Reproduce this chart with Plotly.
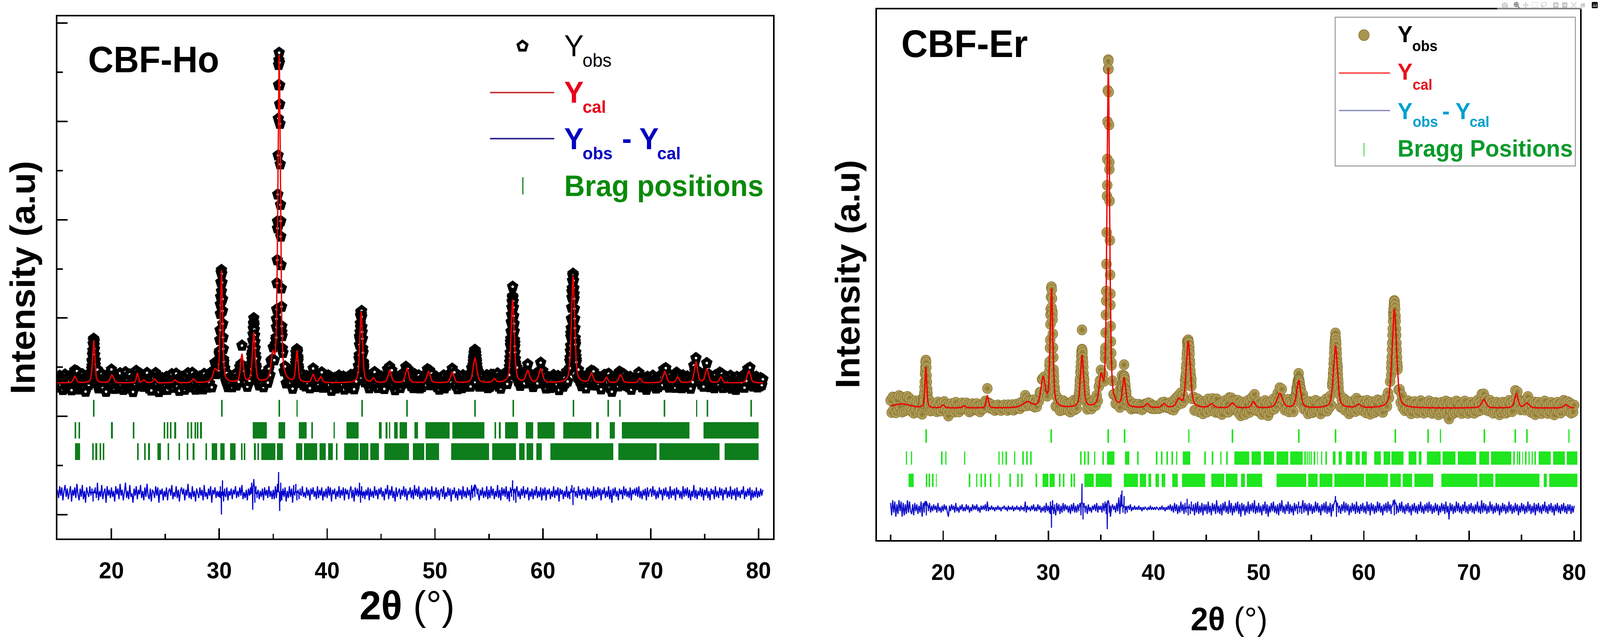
import numpy as np
import plotly.graph_objects as go

W, H = 4268, 1644

# ======================= DATA : CBF-Ho (left) =======================
ho_x_start, ho_x_step = 15.0, 0.1
ho_background = 2680
ho_peak_pos = [16.6, 18.35, 20.05, 22.4, 23.0, 24.0, 25.9, 27.6, 29.6, 30.2, 32.1, 33.2, 34.95, 35.55,
               37.2, 38.7, 39.4, 43.15, 44.3, 45.8, 47.4, 49.4, 51.6, 53.7, 55.5, 57.2, 58.6, 59.8,
               62.8, 64.5, 65.9, 67.2, 69.0, 71.3, 72.5, 74.2, 75.2, 76.5, 79.1]
ho_peak_height = [135, 872, 160, 200, 60, 80, 60, 80, 240, 2275, 570, 1007, 475, 6667,
                  634, 160, 120, 1443, 90, 254, 293, 230, 214, 500, 80, 1688, 240, 280,
                  2172, 190, 110, 166, 90, 230, 120, 428, 277, 120, 246]
ho_peak_fwhm = [0.3, 0.25, 0.35, 0.2, 0.3, 0.3, 0.3, 0.3, 0.45, 0.25, 0.3, 0.3, 0.35, 0.28,
                0.25, 0.3, 0.3, 0.3, 0.3, 0.35, 0.35, 0.35, 0.35, 0.4, 0.3, 0.35, 0.4, 0.4,
                0.35, 0.35, 0.3, 0.35, 0.3, 0.35, 0.3, 0.35, 0.35, 0.3, 0.35]
ho_diff_unit = 24
ho_diff_offset = 436
ho_diff = [
    3,-4,6,-2,5,-6,2,7,-3,4,-5,1,6,-7,3,-2,5,-4,8,-1,-6,4,-3,7,-5,2,-8,5,0,-3,6,-2,4,-7,3,5,-4,9,-6,2,-3,7,-5,1,4,-8,6,-2,3,-4,
    5,-3,2,-7,6,-1,4,-5,8,-2,3,-6,1,9,-4,2,-5,7,-3,0,-8,4,-2,6,-5,3,-1,7,-4,2,-6,5,-3,8,-2,-5,4,-7,3,1,-4,6,-2,5,-8,3,-1,4,-6,2,
    -3,5,-6,2,4,-2,7,-5,1,-3,6,-4,3,-7,2,5,-1,4,-6,3,-2,8,-4,1,-5,6,-3,2,-7,4,0,-4,5,-2,3,-6,7,-3,1,-5,4,-2,6,-8,3,-1,5,-4,2,-3,
    2,6,-18,11,-7,4,-3,5,-6,2,-2,4,-5,3,-1,6,-4,2,-3,5,-2,7,-5,1,-4,3,-6,4,-2,5,9,-14,12,-8,6,-4,3,-5,2,-3,4,-6,5,-2,3,-4,6,-3,2,-5,
    3,-5,6,-4,8,18,-15,9,-6,4,-3,5,-7,2,-4,6,-3,4,-8,7,-2,8,-6,3,-5,4,-2,6,-3,1,-4,5,-2,3,-6,4,-1,5,-3,2,-5,6,-4,3,-2,5,-6,2,-3,4,
    -4,6,-2,5,-7,3,-1,4,-5,2,-3,6,-4,3,-2,5,-6,4,-1,3,-5,2,6,-4,3,-7,5,-2,4,-3,9,-8,6,-4,2,-5,3,-2,5,-6,4,-3,2,-4,6,-2,3,-5,4,-1,
    5,-3,2,-6,4,-1,7,-5,3,-2,6,-4,2,-7,5,-3,1,4,-5,3,-2,6,-3,4,-6,2,-1,5,-4,3,-5,7,-2,4,-3,6,-5,2,-4,3,-2,5,-6,4,-1,3,-5,6,-3,2,
    -2,5,-4,3,-6,2,4,-3,6,-5,1,-3,5,-2,4,-7,3,-1,5,-4,2,-6,4,-2,3,-5,6,-3,2,-4,5,-2,3,-6,7,-4,2,-3,5,-1,4,-6,3,-2,5,-4,2,-3,6,-5,
    3,-4,6,-2,4,-5,2,-3,7,-4,3,-6,5,-2,4,-3,6,-5,2,-7,5,-3,11,-6,4,-8,6,-3,2,-5,4,-2,6,-4,3,-1,5,-6,2,-3,4,-5,3,-2,6,-4,2,-3,5,-6,
    4,-2,5,-6,3,-1,4,-5,2,-3,6,-4,3,-2,5,-7,4,-1,3,-5,2,-3,6,-4,2,-5,4,7,-10,5,-3,2,-4,6,-2,3,-5,4,-1,3,-6,5,-2,4,-3,2,-5,6,-4,3,
    -3,5,-2,4,-6,3,-1,5,-4,2,-3,6,-5,3,-8,4,-2,5,-3,2,-6,4,-1,3,-5,6,-2,4,-3,2,-4,5,-6,3,-1,4,-2,5,-3,6,-4,2,-5,3,-2,4,-6,5,-3,2,
    4,-3,6,-2,3,-5,2,-4,5,-1,3,-6,4,-2,5,-3,2,-5,6,-4,3,-2,4,-6,5,-1,3,-4,2,-5,6,-3,4,-2,5,-4,3,-6,2,-3,7,-4,3,-5,2,-2,5,-3,4,-6,
    3,-2,5,-4,2,-6,4,-1,3,-5,6,-3,2,-4,5,-2,4,-6,3,-1,5,-4,2,-3,6,-5,3,-2,4,-6,5,-3,2,-4,3,-1,6,-5,2,-3,4,-2,5,-6,3,-4,2,-3,5,-4,
    2,-3,4,-2,3]
# finer scans recorded across the strongest reflections (step 0.025 deg, 25 points centred on each)
ho_fine_step = 0.025
ho_fine_centres = [18.35, 30.2, 33.2, 35.55, 37.2, 43.15, 53.7, 57.2, 62.8]
ho_fine_diff = [
    [0,1,-1,1,0,1,0,1,1,0,1,1,1,1,0,1,1,0,1,0,1,0,1,-1,0],
    [1,-2,1,-3,1,-3,-2,-4,-2,0,1,1,0,0,1,-2,1,2,1,0,-2,1,-1,1,-1],
    [1,-1,2,0,2,2,4,3,5,6,7,8,8,7,6,5,4,3,2,2,0,1,-1,1,-1],
    [2,-3,3,-2,3,1,2,1,2,1,1,2,1,0,1,-3,-5,-7,-4,-2,0,2,-1,1,-2],
    [0,1,-1,1,0,1,1,2,1,1,1,1,1,1,2,1,1,0,1,0,1,0,1,-1,0],
    [1,-1,2,-2,1,-1,2,1,0,1,2,1,0,-1,1,-2,0,1,-1,1,-2,1,0,-1,1],
    [0,1,1,2,3,3,4,5,5,6,6,7,7,7,6,6,5,4,4,3,2,2,1,1,0],
    [0,1,1,1,2,2,2,3,3,3,3,3,3,3,3,3,2,2,2,1,1,1,0,0,1],
    [1,0,1,0,1,1,1,2,2,2,2,2,2,2,2,2,1,1,1,1,0,1,0,1,0],
]
ho_bragg_row1 = [18.36, 30.23, 35.58, 37.2, 43.24, 47.4, 53.72, 57.27, 62.84, 66.05, 67.15, 71.28, 74.26, 75.28, 79.3]
ho_bragg_row2 = [16.66, 17.02, 20.06, 22.05, 24.9, 25.2, 25.5, 25.9, 27.1, 27.4, 27.8, 28.0, 28.3,
                 [33.1, 34.4], [35.5, 36.1], [37.4, 38.1], 38.6, 40.65, [41.8, 42.9], [44.8, 45.05], 45.5, 45.8,
                 46.3, 46.45, [46.75, 47.4], [48.1, 48.4], [49.1, 51.35], [51.6, 54.6], 55.6, 56.0, [56.5, 57.7],
                 [58.4, 59.1], [59.5, 61.1], [61.9, 64.5], [64.95, 65.2], [66.2, 66.7], [67.3, 73.6], [74.9, 80.0]]
ho_bragg_row3 = [[16.65, 17.1], 18.3, 18.6, 18.96, 19.27, 22.45, 23.1, 23.5, [24.25, 24.6], 25.3, 26.3, 27.05,
                 27.6, 28.8, [29.3, 29.8], [30.1, 30.5], [31.0, 31.5], 32.1, 32.35, 33.3, 33.6, [33.9, 35.2],
                 [35.35, 35.9], [37.1, 37.7], [37.85, 39.1], [39.3, 39.9], [40.1, 40.5], 40.9, [41.6, 42.9],
                 [43.0, 43.8], [44.0, 44.8], [45.3, 47.6], [47.95, 49.0], [49.15, 50.4], [51.5, 55.0],
                 [55.3, 57.5], [57.8, 58.3], [58.5, 59.1], [59.4, 59.9], [60.7, 66.5], [67.0, 70.55],
                 [70.8, 76.4], [76.85, 80.0]]
ho_bragg_rows_y = [2168, 1716, 1284]

# ======================= DATA : CBF-Er (right) =======================
er_x_start, er_x_step = 15.0, 0.1
er_background = 2164
er_peak_pos = [16.0, 18.35, 20.0, 22.0, 24.2, 28.0, 29.5, 30.3, 33.2, 35.0, 35.7, 37.2, 39.4, 41.0,
               42.4, 43.3, 45.5, 47.5, 49.5, 52.0, 53.8, 57.3, 59.5, 62.9, 71.4, 74.5, 75.5, 79.2]
er_peak_height = [87, 824, 60, 50, 254, 119, 587, 2400, 1062, 555, 6873, 587, 80, 80,
                  160, 1348, 80, 100, 127, 293, 555, 1268, 70, 2013, 174, 293, 100, 70]
er_peak_fwhm = [2.0, 0.2, 0.3, 0.3, 0.25, 1.0, 0.5, 0.3, 0.35, 0.4, 0.3, 0.35, 0.4, 0.4,
                0.5, 0.45, 0.5, 0.5, 0.4, 0.6, 0.45, 0.45, 0.5, 0.5, 0.5, 0.4, 0.5, 0.5]
er_diff_unit = 28
er_diff_offset = 127
er_diff = [
    4,-5,6,-3,5,-6,3,-4,6,-2,5,-6,4,-5,3,-4,6,-3,5,-2,-4,3,-5,4,-2,3,-4,2,-3,5,-6,4,-3,2,-5,3,-2,4,-3,2,-2,3,-1,2,-3,4,-2,1,-3,2,
    -2,3,-1,2,-3,-6,2,-2,3,-1,2,-3,4,-2,1,-3,2,-1,3,-2,1,-2,3,-1,2,-3,1,-2,3,-1,2,-1,3,-2,1,-3,2,-1,2,-1,3,-2,5,-2,1,-1,2,-1,1,-2,
    1,-1,2,-1,1,-2,1,0,2,-1,1,-2,2,-1,1,-1,2,-2,1,-1,2,-1,1,-2,2,-1,1,-2,5,-3,2,-1,1,-2,2,-1,3,-2,1,-2,3,-1,2,-3,1,-2,2,-3,4,-2,
    2,-3,5,-14,6,-4,3,-5,4,-2,3,-4,2,-3,4,-2,3,-1,2,-3,2,-4,3,-2,4,-3,2,-3,3,-2,4,-5,18,-8,4,-3,2,-4,3,-2,1,-3,2,-1,3,-2,4,-3,2,-1,
    2,-3,4,-2,5,-4,-15,6,-3,2,-2,3,-1,2,-3,4,-2,8,-4,10,13,-3,9,-4,2,-3,2,-1,3,-2,1,-1,2,-1,1,-1,2,-1,1,-2,1,-1,1,0,-1,1,-1,2,-1,1,
    -1,1,-1,1,0,-1,1,-1,2,-1,1,-2,1,-1,2,-1,3,-2,2,-3,4,-2,3,-4,2,-3,5,-2,3,-4,4,-3,7,-5,3,-4,5,-2,3,-5,4,-3,5,-4,2,-3,4,-5,3,-2,
    3,-4,5,-3,2,-5,4,-2,3,-4,6,-3,2,-4,3,-5,4,-2,5,-3,2,-4,6,-3,4,-5,2,-3,4,-2,5,-4,3,-6,4,-2,3,-5,2,-3,5,-4,3,-2,4,-3,6,-4,2,-3,
    4,-3,2,-5,3,-2,5,-4,3,-6,2,-3,4,-2,5,-3,2,-4,3,-5,4,-2,6,-3,2,-4,3,-2,5,-4,3,-3,2,-5,4,-2,3,-4,5,-3,2,-4,6,-3,4,-2,3,-5,4,-2,
    3,-4,2,-3,5,-2,4,-3,2,-5,3,-2,4,-3,5,-4,2,-3,4,-6,3,-2,5,9,-6,4,-3,2,-4,3,-2,5,-3,4,-2,3,-5,2,-3,4,-2,3,-4,5,-3,2,-4,3,-2,4,
    -3,2,-4,5,-2,3,-5,4,-2,3,-4,2,-3,5,-2,4,-3,2,-5,3,-2,4,-3,5,-2,3,-4,2,6,-5,3,-4,2,-3,4,-2,5,-3,2,-4,3,-2,4,-3,2,-5,3,-2,4,-3,
    2,-4,3,-2,5,-3,2,-4,3,-2,4,-3,5,-2,3,-4,2,-3,4,-2,3,-5,2,-3,4,-2,3,-4,5,-3,2,-8,4,-2,3,-4,2,-3,5,-2,4,-3,2,-4,3,-2,5,-3,2,-4,
    3,-2,4,-3,2,-4,3,-2,5,-3,2,-4,6,-3,4,-2,3,-4,2,-3,5,-2,3,-4,2,-3,4,-2,3,-5,2,-3,4,-2,3,-4,2,-3,5,-2,3,-4,2,-3,4,-2,3,-5,2,-3,
    4,-2,3,-4,2,-3,5,-2,3,-4,2,-3,4,-5,3,-2,4,-3,2,-4,3,-2,5,-3,2,-4,3,-2,4,-3,2,-5,3,-2,4,-3,2,-4,3,-2,4,-3,2,-4,3,-2,3,-4,2,-3,
    2]
er_fine_step = 0.025
er_fine_centres = [18.35, 30.3, 33.2, 35.7, 37.2, 43.3, 53.8, 57.3, 62.9]
er_fine_diff = [
    [0,1,1,2,2,3,3,4,4,5,5,5,5,5,5,4,4,3,3,2,2,1,1,0,1],
    [1,-1,0,-2,1,-3,-1,-4,-2,0,1,2,1,1,0,-1,2,1,0,1,-1,0,1,-1,0],
    [1,1,1,2,2,2,3,3,3,4,4,4,4,4,4,3,3,3,2,2,2,1,1,1,0],
    [1,1,2,2,3,3,3,4,4,5,5,5,5,5,4,3,2,1,-2,-4,-6,-5,-3,-1,0],
    [1,2,2,3,3,3,2,2,2,1,1,1,1,1,1,1,0,1,0,1,0,-1,0,1,0],
    [0,0,1,0,1,0,1,1,0,1,1,0,1,0,1,1,0,1,0,1,0,0,1,0,0],
    [0,1,0,1,1,0,1,1,1,1,1,1,1,1,1,1,1,0,1,1,0,1,0,0,0],
    [1,1,1,2,2,3,3,4,4,5,5,6,6,6,5,5,4,4,3,3,2,2,1,1,0],
    [1,1,1,2,2,3,3,4,4,5,5,6,6,6,5,5,4,4,3,3,2,2,1,1,0],
]
er_bragg_row1 = [18.37, 30.27, 35.7, 37.26, 43.38, 47.5, 53.8, 57.3, 63.0, 66.1, 67.3, 71.45, 74.4, 75.5, 79.5]
er_bragg_row2 = [16.5, 17.0, 19.86, 20.25, 22.05, 25.3, 25.65, 26.0, 26.8, 27.6, 27.95, 28.35, 33.1, 33.45, 33.8,
                 34.4, 35.2, [35.6, 36.3], [37.3, 37.7], 38.5, 40.3, 40.8, 41.3, 41.8, 42.2, [42.8, 43.5], 44.9,
                 45.6, 46.4, 47.0, [47.7, 49.1], [49.3, 50.2], [50.5, 51.5], [51.7, 52.8], [53.0, 54.2], 54.4,
                 54.6, 54.8, 55.0, 55.3, 55.6, 56.0, 56.4, [57.05, 57.3], [57.6, 57.9], [58.3, 58.9],
                 [59.2, 59.6], [59.8, 60.3], [61.0, 61.6], [61.9, 62.5], [62.6, 63.8], [64.25, 65.0],
                 [65.2, 65.5], [66.0, 67.3], [67.5, 68.7], [68.9, 70.7], [71.0, 71.9], [72.1, 74.0], 74.3,
                 74.6, 74.8, 75.1, 75.4, 75.7, 76.0, 76.3, [76.6, 77.8], [78.0, 79.1], [79.3, 80.3]]
er_bragg_row3 = [[16.7, 17.2], 18.4, 18.7, 19.0, 19.35, 22.5, 23.2, 23.6, 24.0, 24.5, 25.3, 26.35, 27.1, 27.5,
                 28.85, [29.45, 30.0], [30.15, 30.6], 31.1, 31.45, 32.2, 32.45, [33.4, 34.3], [34.5, 36.0],
                 [37.2, 38.5], [38.7, 39.3], [39.5, 39.8], [40.2, 40.5], [40.8, 41.1], [41.8, 42.3],
                 [42.7, 44.9], [45.5, 46.7], [46.9, 48.0], [48.3, 48.7], [48.9, 50.35], [51.7, 54.5],
                 [54.7, 55.6], [55.8, 57.0], [57.2, 60.0], [60.2, 62.3], [62.5, 63.5], [63.7, 64.6],
                 [64.8, 66.6], [67.4, 70.8], [71.0, 72.3], [72.5, 76.7], [77.1, 77.4], [77.6, 80.3]]
er_bragg_rows_y = [1597, 1149, 698]

x_major_ticks = [20, 30, 40, 50, 60, 70, 80]
x_minor_ticks = [15, 25, 35, 45, 55, 65, 75]

# ======================= helpers =======================
def profile(x, pos, hgt, fwhm, base, eta=0.5):
    x = np.asarray(x, dtype=float)[:, None]
    p = np.asarray(pos, dtype=float)[None, :]
    w = np.asarray(fwhm, dtype=float)[None, :]
    h = np.asarray(hgt, dtype=float)[None, :]
    z = (x - p) / w
    shape = eta / (1 + 4 * z ** 2) + (1 - eta) * np.exp(-4 * np.log(2) * z ** 2)
    return base + (h * shape).sum(axis=1)


def bragg_bars(row, minw):
    base, width = [], []
    for it in row:
        if isinstance(it, (list, tuple)):
            a, b = it
        else:
            a = b = it
        if b - a < minw:
            c = 0.5 * (a + b)
            a, b = c - minw / 2, c + minw / 2
        base.append(a)
        width.append(b - a)
    return base, width


def px(x):
    return x / W


def py(y):
    return 1 - y / H


FONT = "Liberation Sans, Arial, sans-serif"

fig = go.Figure()


def add_panel(xa, ya, x_start, x_step, diff, fine_step, fine_centres, fine_diff, unit, offset, bg,
              pos, hgt, fwhm, rows, rows_y, row_h, min_w, bragg_color, diff_color, obs_marker):
    # observation points: coarse scan plus finer scans over the strong reflections
    xs = list(np.round(x_start + x_step * np.arange(len(diff)), 4))
    ds = list(diff)
    for c, fd in zip(fine_centres, fine_diff):
        m = len(fd) // 2
        for k, v in enumerate(fd):
            xs.append(round(c + fine_step * (k - m), 4))
            ds.append(v)
    order = np.argsort(xs, kind="stable")
    x_obs = np.asarray(xs)[order]
    d = np.asarray(ds, dtype=float)[order] * unit
    x_fine = np.arange(x_start, x_obs[-1] + 1e-9, 0.02)
    y_cal_fine = profile(x_fine, pos, hgt, fwhm, bg)
    y_obs = profile(x_obs, pos, hgt, fwhm, bg) + d
    for row, yr in zip(rows, rows_y):
        b, w = bragg_bars(row, min_w)
        fig.add_trace(go.Bar(orientation="h", base=b, x=w, y=[yr] * len(b), width=row_h,
                             marker=dict(color=bragg_color, line=dict(width=0)),
                             xaxis=xa, yaxis=ya, showlegend=False, name="Bragg positions"))
    fig.add_trace(go.Scatter(x=x_obs, y=offset + d, mode="lines",
                             line=dict(color=diff_color, width=3),
                             xaxis=xa, yaxis=ya, showlegend=False, name="Yobs - Ycal"))
    fig.add_trace(go.Scatter(x=x_obs, y=y_obs, mode="markers", marker=obs_marker,
                             xaxis=xa, yaxis=ya, showlegend=False, name="Yobs"))
    fig.add_trace(go.Scatter(x=x_fine, y=y_cal_fine, mode="lines",
                             line=dict(color="#F00000", width=3.5),
                             xaxis=xa, yaxis=ya, showlegend=False, name="Ycal"))


add_panel("x", "y", ho_x_start, ho_x_step, ho_diff, ho_fine_step, ho_fine_centres, ho_fine_diff,
          ho_diff_unit, ho_diff_offset, ho_background,
          ho_peak_pos, ho_peak_height, ho_peak_fwhm,
          [ho_bragg_row1, ho_bragg_row2, ho_bragg_row3], ho_bragg_rows_y, 341, 0.15,
          "#0E7D1C", "#0000D0",
          dict(symbol="pentagon", size=20, color="white", line=dict(width=10, color="black")))

add_panel("x2", "y2", er_x_start, er_x_step, er_diff, er_fine_step, er_fine_centres, er_fine_diff,
          er_diff_unit, er_diff_offset, er_background,
          er_peak_pos, er_peak_height, er_peak_fwhm,
          [er_bragg_row1, er_bragg_row2, er_bragg_row3], er_bragg_rows_y, 275, 0.13,
          "#1FE61F", "#1010C8",
          dict(symbol="circle", size=26, color="#BDAA66",
               gradient=dict(type="radial", color="#86722C"),
               line=dict(width=1.5, color="#85712E")))

# ======================= axes =======================
common_x = dict(showgrid=False, zeroline=False, showline=True, linecolor="black", mirror=True,
                ticks="inside", tickvals=x_major_ticks, tickcolor="black")
fig.update_layout(
    width=W, height=H, margin=dict(l=0, r=0, t=0, b=0),
    paper_bgcolor="white", plot_bgcolor="white", showlegend=False, barmode="overlay", bargap=0,
    xaxis=dict(domain=[px(154), px(2070)], range=[15, 81.35], anchor="y", linewidth=4,
               ticklen=26, tickwidth=4, ticklabelstandoff=26,
               tickfont=dict(family=FONT, size=60, color="black", weight="bold"),
               minor=dict(tickvals=x_minor_ticks, ticklen=12, tickwidth=4, ticks="inside", tickcolor="black"),
               **common_x),
    yaxis=dict(domain=[py(1379), py(42)], range=[-484, 10135], anchor="x", showgrid=False,
               zeroline=False, showline=True, linecolor="black", linewidth=4, mirror=True,
               ticks="inside", tickvals=[0, 2000, 4000, 6000, 8000, 10000], ticklen=27, tickwidth=4,
               tickcolor="black", showticklabels=False,
               minor=dict(tickvals=[1000, 3000, 5000, 7000, 9000], ticklen=14, tickwidth=4,
                          ticks="inside", tickcolor="black")),
    xaxis2=dict(domain=[px(2348), px(4231)], range=[13.7, 80.57], anchor="y2", linewidth=4,
                ticklen=24, tickwidth=3.5, ticklabelstandoff=30,
                tickfont=dict(family=FONT, size=57, color="black", weight="bold"),
                minor=dict(tickvals=x_minor_ticks, ticklen=14, tickwidth=3.5, ticks="inside", tickcolor="black"),
                **common_x),
    yaxis2=dict(domain=[py(1383), py(24)], range=[-515, 10258], anchor="x2", showgrid=False,
                zeroline=False, showline=True, linecolor="black", linewidth=4, mirror=True,
                ticks="", showticklabels=False),
)

# ======================= text & legends =======================
ann = []


def text(t, x, y, size, color="black", bold=True, xa="center", ya="middle", angle=0):
    ann.append(dict(text=t, x=px(x), y=py(y), xref="paper", yref="paper", showarrow=False,
                    xanchor=xa, yanchor=ya, textangle=angle,
                    font=dict(family=FONT, size=size, color=color, weight="bold" if bold else "normal")))


# panel labels
text("CBF-Ho", 412, 152, 94)
text("CBF-Er", 2583, 112, 98)
# axis titles
text("Intensity (a.u)", 61, 711, 92, angle=-90)
text("Intensity (a.u)", 2270, 702, 90, angle=-90)
text("<b>2θ</b> (°)", 1090, 1550, 104, bold=False)
text("<b>2θ</b> (°)", 3291, 1585, 84, bold=False)

# left legend (main letters + subscripts)
text("Y", 1509, 117, 78, "black", bold=False, xa="left")
text("obs", 1558, 155, 48, "black", bold=False, xa="left")
text("Y", 1509, 236, 78, "#E8001C", xa="left")
text("cal", 1558, 273, 45, "#E8001C", xa="left")
text("Y", 1509, 355, 78, "#0000C0", xa="left")
text("obs", 1558, 393, 45, "#0000C0", xa="left")
text("- Y", 1663, 355, 78, "#0000C0", xa="left")
text("cal", 1758, 393, 45, "#0000C0", xa="left")
text("Brag positions", 1509, 476, 76, "#0A8A0A", xa="left")

# right legend
text("Y", 3740, 87, 60, "black", xa="left")
text("obs", 3779, 118, 38, "black", xa="left")
text("Y", 3740, 184, 60, "#E8141B", xa="left")
text("cal", 3780, 217, 38, "#E8141B", xa="left")
text("Y", 3740, 284, 60, "#00A0D0", xa="left")
text("obs", 3780, 312, 38, "#00A0D0", xa="left")
text("- Y", 3859, 284, 60, "#00A0D0", xa="left")
text("cal", 3933, 312, 38, "#00A0D0", xa="left")
text("Bragg Positions", 3740, 380, 61, "#0A9A2A", xa="left")

shapes = []


def pentagon(cx, cy, r):
    pts = []
    for k in range(5):
        a = np.pi / 2 + 2 * np.pi * k / 5
        pts.append((px(cx + r * np.cos(a)), py(cy - r * np.sin(a))))
    return "M " + " L ".join(f"{x:.5f},{y:.5f}" for x, y in pts) + " Z"


shapes.append(dict(type="path", path=pentagon(1399, 118, 13), xref="paper", yref="paper",
                   line=dict(color="black", width=7), fillcolor="white"))
shapes.append(dict(type="line", x0=px(1312), x1=px(1484), y0=py(237), y1=py(237), xref="paper", yref="paper",
                   line=dict(color="#C83A3A", width=4)))
shapes.append(dict(type="line", x0=px(1312), x1=px(1484), y0=py(355), y1=py(355), xref="paper", yref="paper",
                   line=dict(color="#2B2B8F", width=4)))
shapes.append(dict(type="line", x0=px(1400), x1=px(1400), y0=py(454), y1=py(498), xref="paper", yref="paper",
                   line=dict(color="#0E7D1C", width=3)))

shapes.append(dict(type="rect", x0=px(3575), x1=px(4218), y0=py(425), y1=py(44), xref="paper", yref="paper",
                   line=dict(color="#808080", width=2), fillcolor="white", layer="above"))
shapes.append(dict(type="circle", x0=px(3638), x1=px(3666), y0=py(104), y1=py(76), xref="paper", yref="paper",
                   line=dict(color="#85712E", width=1.5), fillcolor="#A8964E", layer="above"))
shapes.append(dict(type="line", x0=px(3585), x1=px(3722), y0=py(187), y1=py(187), xref="paper", yref="paper",
                   line=dict(color="#FF2020", width=3), layer="above"))
shapes.append(dict(type="line", x0=px(3585), x1=px(3722), y0=py(283), y1=py(283), xref="paper", yref="paper",
                   line=dict(color="#7E7EB8", width=3), layer="above"))
shapes.append(dict(type="line", x0=px(3652), x1=px(3652), y0=py(366), y1=py(401), xref="paper", yref="paper",
                   line=dict(color="#22CC22", width=2), layer="above"))

fig.update_layout(annotations=ann, shapes=shapes)

fit_js = (
    "var gd=document.getElementById('{plot_id}');"
    "document.documentElement.style.margin='0';document.body.style.margin='0';"
    "document.documentElement.style.overflow='hidden';document.body.style.overflow='hidden';"
    "var sx=window.innerWidth/%d, sy=window.innerHeight/%d;"
    "gd.style.transformOrigin='0 0';gd.style.transform='scale('+sx+','+sy+')';" % (W, H)
)
fig.write_html("out.html", post_script=fit_js)
